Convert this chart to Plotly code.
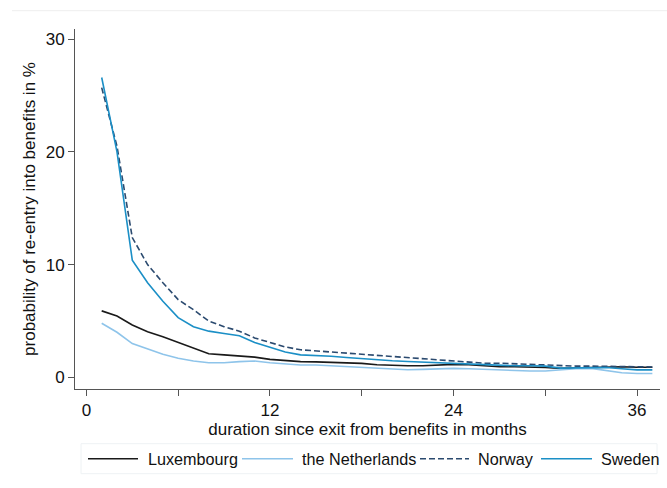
import plotly.graph_objects as go

months = list(range(1, 38))

luxembourg = [5.9, 5.45, 4.65, 4.05, 3.6, 3.1, 2.55, 2.1, 2.0, 1.9, 1.8, 1.6, 1.5, 1.4,
              1.38, 1.35, 1.3, 1.24, 1.12, 1.06, 1.03, 1.03, 1.09, 1.15, 1.12, 1.03, 0.94,
              0.94, 0.94, 0.88, 0.8, 0.85, 0.9, 0.9, 0.95, 0.9, 0.9]
netherlands = [4.8, 4.0, 3.0, 2.5, 2.05, 1.7, 1.45, 1.3, 1.3, 1.4, 1.45, 1.3, 1.2, 1.1,
               1.1, 1.04, 0.97, 0.88, 0.8, 0.74, 0.68, 0.71, 0.77, 0.8, 0.77, 0.71, 0.68,
               0.59, 0.56, 0.56, 0.68, 0.77, 0.8, 0.62, 0.41, 0.35, 0.35]
norway = [25.7, 20.5, 12.4, 10.0, 8.4, 6.9, 6.0, 5.0, 4.5, 4.1, 3.5, 3.1, 2.7, 2.45,
          2.35, 2.24, 2.1, 2.0, 1.9, 1.8, 1.7, 1.6, 1.53, 1.44, 1.3, 1.26, 1.26,
          1.2, 1.18, 1.1, 1.05, 1.0, 1.0, 0.98, 0.95, 0.92, 0.92]
sweden = [26.6, 20.0, 10.4, 8.4, 6.75, 5.3, 4.5, 4.1, 3.9, 3.7, 3.1, 2.65, 2.25, 2.0,
          1.95, 1.88, 1.77, 1.65, 1.56, 1.47, 1.41, 1.35, 1.3, 1.24, 1.18, 1.09, 1.03,
          1.03, 1.03, 1.0, 0.82, 0.85, 0.88, 0.88, 0.76, 0.67, 0.67]

x_ticks = [0, 12, 24, 36]
y_ticks = [0, 10, 20, 30]

series = [
    ("Luxembourg", luxembourg, "#1a1a1a", "solid"),
    ("the Netherlands", netherlands, "#8ec4ea", "solid"),
    ("Norway", norway, "#2b4a6f", "6px,3px"),
    ("Sweden", sweden, "#1b8fc6", "solid"),
]

W, H = 667, 488
L, R, T, B = 75, 660, 29.3, 389.3
FONT = "Liberation Sans, Arial, sans-serif"

def px_x(p):
    return (p - L) / (R - L)

def px_y(p):
    return (B - p) / (B - T)

fig = go.Figure()
for name, vals, color, dash in series:
    fig.add_trace(go.Scatter(x=months, y=vals, mode="lines", name=name,
                             line=dict(color=color, width=1.6, dash=dash),
                             showlegend=False))

# manual legend (layout decoration)
shapes = []
annotations = []
shapes.append(dict(type="rect", xref="paper", yref="paper",
                   x0=px_x(81), x1=px_x(657), y0=px_y(474), y1=px_y(444),
                   line=dict(color="#eef2f4", width=1), fillcolor="rgba(0,0,0,0)"))
legend_pos = [(88, 138, 146), (242, 293, 300), (420, 469, 476), (541, 592, 599)]
for (name, vals, color, dash), (l0, l1, tx) in zip(series, legend_pos):
    shapes.append(dict(type="line", xref="paper", yref="paper",
                       x0=px_x(l0), x1=px_x(l1), y0=px_y(459), y1=px_y(459),
                       line=dict(color=color, width=1.6, dash=dash)))
    annotations.append(dict(text=name, xref="paper", yref="paper",
                            x=px_x(tx), y=px_y(459), xanchor="left", yanchor="middle",
                            showarrow=False, font=dict(size=16.2, color="#111", family=FONT)))
# faint outer border line at top
shapes.append(dict(type="line", xref="paper", yref="paper",
                   x0=px_x(12), x1=px_x(667), y0=px_y(11), y1=px_y(11),
                   line=dict(color="#eeeeee", width=1)))

fig.update_layout(
    width=W, height=H,
    margin=dict(l=L, r=W - R, t=T, b=H - B, pad=0),
    paper_bgcolor="white", plot_bgcolor="white",
    font=dict(family=FONT, size=17, color="#111"),
    shapes=shapes, annotations=annotations,
    showlegend=False,
)
fig.update_xaxes(
    range=[-0.745, 37.5], tickvals=x_ticks, ticktext=[str(v) for v in x_ticks],
    ticks="outside", ticklen=6, tickcolor="#555", tickwidth=1,
    minor=dict(dtick=6, tick0=0, ticks="outside", ticklen=6, tickcolor="#555", tickwidth=1),
    showline=True, linecolor="#555", linewidth=1, showgrid=False, zeroline=False,
    tickfont=dict(size=17),
    title=dict(text="duration since exit from benefits in months", font=dict(size=17), standoff=0),
)
fig.update_yaxes(
    range=[-1.03, 30.9], tickvals=y_ticks, ticktext=[str(v) for v in y_ticks],
    ticks="outside", ticklen=6, tickcolor="#555", tickwidth=1,
    showline=True, linecolor="#555", linewidth=1, showgrid=False, zeroline=False,
    tickfont=dict(size=17),
    title=dict(text="probability of re-entry into benefits in %", font=dict(size=17), standoff=5),
)

fig.write_html("out.html", config={"displayModeBar": False},
               post_script="document.body.style.margin='0';document.body.style.padding='0';")
